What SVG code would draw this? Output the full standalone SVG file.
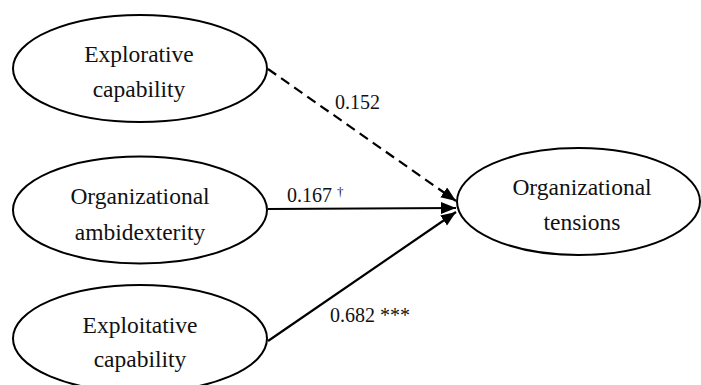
<svg xmlns="http://www.w3.org/2000/svg" width="701" height="385" viewBox="0 0 701 385">
<style>
.node ellipse{fill:#fff;stroke:#000;stroke-width:2}
.node text{font-family:"Liberation Serif",serif;font-size:23.5px;fill:#111;text-anchor:middle}
.edge{stroke:#000;stroke-width:2.2;fill:none}
.lbl{font-family:"Liberation Serif",serif;font-size:20px;fill:#111}
</style>
<defs>
<marker id="arr" markerUnits="userSpaceOnUse" markerWidth="16" markerHeight="14" refX="15" refY="6" orient="auto">
<path d="M0,0 L15,6 L0,12 Z" fill="#000"/>
</marker>
</defs>
<rect width="701" height="385" fill="#fff"/>
<g id="connectors">
<line class="edge" x1="268" y1="69" x2="456" y2="201" stroke-dasharray="10,6" marker-end="url(#arr)"/>
<line class="edge" x1="268" y1="209" x2="456" y2="208" marker-end="url(#arr)"/>
<line class="edge" x1="268" y1="341" x2="456" y2="212" marker-end="url(#arr)"/>
<text class="lbl" x="335" y="109">0.152</text>
<text class="lbl" x="287" y="202">0.167 <tspan font-size="13" dy="-6">†</tspan></text>
<text class="lbl" x="330" y="322">0.682 ***</text>
</g>
<g id="explorative" class="node">
<ellipse cx="140" cy="68.5" rx="127" ry="53.5"/>
<text x="139" y="62">Explorative</text>
<text x="139" y="97">capability</text>
</g>
<g id="ambidexterity" class="node">
<ellipse cx="140" cy="210" rx="127" ry="53.5"/>
<text x="140" y="204">Organizational</text>
<text x="140" y="240">ambidexterity</text>
</g>
<g id="exploitative" class="node">
<ellipse cx="140" cy="338.5" rx="127" ry="53.5"/>
<text x="140" y="333">Exploitative</text>
<text x="140" y="367">capability</text>
</g>
<g id="tensions" class="node">
<ellipse cx="578.5" cy="201.5" rx="121.5" ry="53.5"/>
<text x="582" y="195">Organizational</text>
<text x="582" y="230">tensions</text>
</g>
</svg>
